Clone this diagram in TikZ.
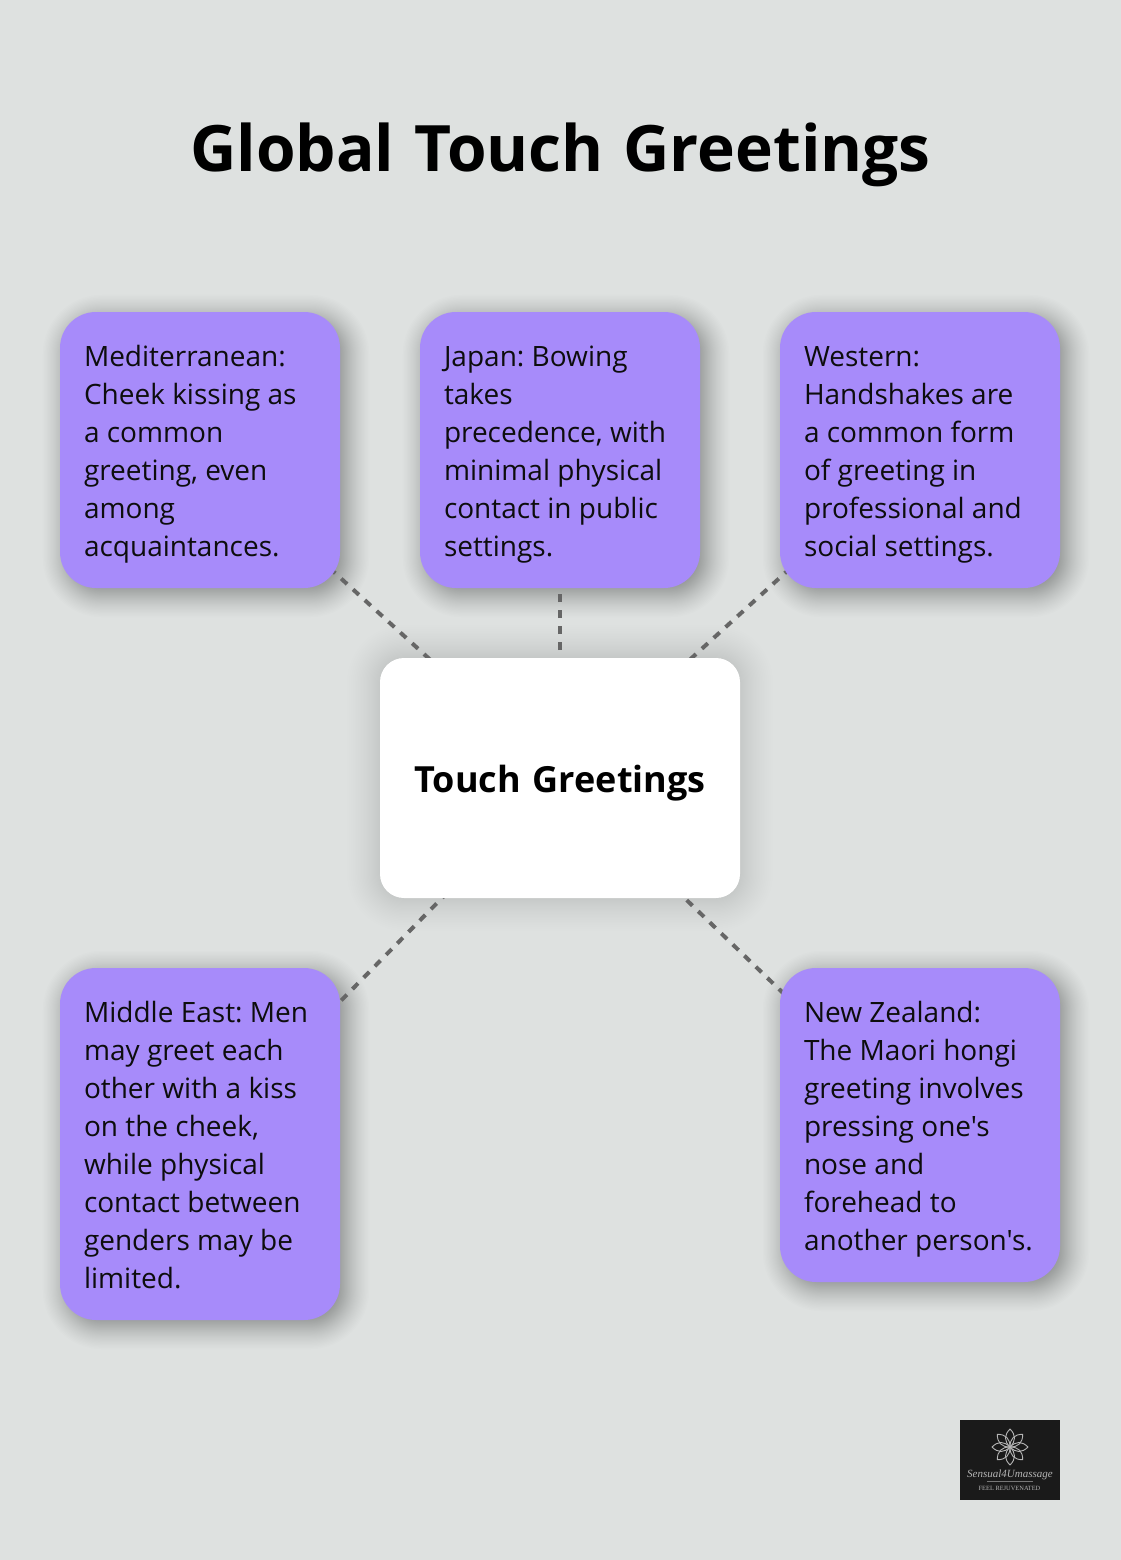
\documentclass[tikz,border=0pt]{standalone}
\usepackage{fontspec}
\newfontfamily\opensans{Open Sans}
\newfontfamily\logoserif{Liberation Serif}
\pgfdeclarelayer{shadowlayer}
\pgfdeclarelayer{linelayer}
\pgfsetlayers{shadowlayer,linelayer,main}
\definecolor{pagebg}{HTML}{DEE1E0}
\definecolor{boxpurple}{HTML}{A78BFA}
\definecolor{linegrey}{HTML}{666666}
\definecolor{logodark}{HTML}{1A1A1A}
\definecolor{logogrey}{HTML}{B4B4B4}
\newcommand{\topstr}{\spaceskip 7.3pt\relax\rule{0pt}{30.6pt}}
\newcommand{\botstr}{\rule[-7.4pt]{0pt}{7.4pt}}
\newcommand{\bodyfnt}{\opensans\fontsize{28}{38}\selectfont\frenchspacing}
\newcommand{\hubfnt}{\opensans\fontsize{36}{44}\selectfont\bfseries\spaceskip 12pt\relax}
\newcommand{\titlefnt}{\opensans\fontsize{64}{76}\selectfont\bfseries\spaceskip 20pt\relax}
\tikzset{
  x=1pt,y=-1pt,
  infobox/.style={fill=boxpurple,rounded corners=36pt,text width=232pt,align=left,inner xsep=24pt,inner ysep=24pt,font=\bodyfnt,text=black!95},
  hubbox/.style={fill=white,rounded corners=24pt,minimum width=360pt,minimum height=240pt,inner sep=0pt,text height=29pt,text depth=0pt,font=\hubfnt,text=black},
  titletext/.style={inner sep=0pt,font=\titlefnt,text=black},
  dashlink/.style={draw=linegrey,line width=4pt,dash pattern=on 8pt off 8pt},
  logotext/.style={inner sep=0pt,text=logogrey},
  petal/.style={draw=logogrey,line width=0.9pt,fill=none,line join=round},
}
% soft shadow: stacked translucent rounded rectangles
% #1,#2 centre; #3,#4 half sizes; #5 radius; #6 offset; #7 spread; #8 layer opacity
\newcommand{\softshadow}[8]{%
  \begin{pgfonlayer}{shadowlayer}
  \foreach \k in {0,...,47}{
    \pgfmathsetmacro{\uu}{(\k+0.5)/24-1}
    \pgfmathsetmacro{\gr}{#7*(0.75*\uu+0.25*\uu*\uu*\uu)}
    \pgfmathsetmacro{\rr}{max(2,#5+\gr)}
    \fill[black,opacity=#8,rounded corners=\rr pt]
      ({#1+#6-#3-\gr},{#2+#6-#4-\gr}) rectangle ({#1+#6+#3+\gr},{#2+#6+#4+\gr});
  }
  \end{pgfonlayer}}
\begin{document}
\begin{tikzpicture}
\useasboundingbox (0,0) rectangle (1120,1560);
\begin{pgfonlayer}{shadowlayer}
\fill[pagebg] (-5,-5) rectangle (1125,1565);
\end{pgfonlayer}

\node[titletext] (title) at (560.5,155) {Global Touch Greetings};

\node[hubbox] (hub) at (560,778) {Touch Greetings};

\node[infobox] (med) at (200,450) {\topstr Mediterranean:\\Cheek kissing as\\a common\\greeting, even\\among\\acquaintances.\botstr};
\node[infobox] (jap) at (560,450) {\topstr Japan: Bowing\\takes\\precedence, with\\minimal physical\\contact in public\\settings.\botstr};
\node[infobox] (wes) at (920,450) {\topstr Western:\\Handshakes are\\a common form\\of greeting in\\professional and\\social settings.\botstr};
\node[infobox] (mid) at (200,1144) {\topstr Middle East: Men\\may greet each\\other with a kiss\\on the cheek,\\while physical\\contact between\\genders may be\\limited.\botstr};
\node[infobox] (nzl) at (920,1125) {\topstr New Zealand:\\The Maori hongi\\greeting involves\\pressing one's\\nose and\\forehead to\\another person's.\botstr};

\softshadow{200}{450}{140}{138}{36}{6}{24}{0.0085}
\softshadow{560}{450}{140}{138}{36}{6}{24}{0.0085}
\softshadow{920}{450}{140}{138}{36}{6}{24}{0.0085}
\softshadow{200}{1144}{140}{176}{36}{6}{24}{0.0085}
\softshadow{920}{1125}{140}{157}{36}{6}{24}{0.0085}
\softshadow{560}{778}{180}{120}{24}{0}{34}{0.005}

\begin{pgfonlayer}{linelayer}
\draw[dashlink] (hub.center) -- (med.center);
\draw[dashlink] (hub.center) -- (jap.center);
\draw[dashlink] (hub.center) -- (wes.center);
\draw[dashlink] (hub.center) -- (mid.center);
\draw[dashlink] (hub.center) -- (nzl.center);
\end{pgfonlayer}

% logo
\fill[logodark] (960,1420) rectangle (1060,1500);
\foreach \a in {0,45,...,315}{
  \draw[petal,rotate around={\a:(1010,1447)}] (1010,1447) .. controls (1004,1441) and (1004,1435) .. (1010,1429) .. controls (1016,1435) and (1016,1441) .. (1010,1447);
}
\node[logotext,font=\logoserif\fontsize{11}{11}\selectfont\itshape] (logoname) at (1010,1474.5) {Sensual4Umassage};
\draw[logogrey!60!logodark,line width=0.5pt] (987,1481.5) -- (1033,1481.5);
\node[logotext,font=\logoserif\fontsize{6.4}{7}\selectfont] (logotag) at (1009.5,1488) {FEEL REJUVENATED};
\end{tikzpicture}
\end{document}
